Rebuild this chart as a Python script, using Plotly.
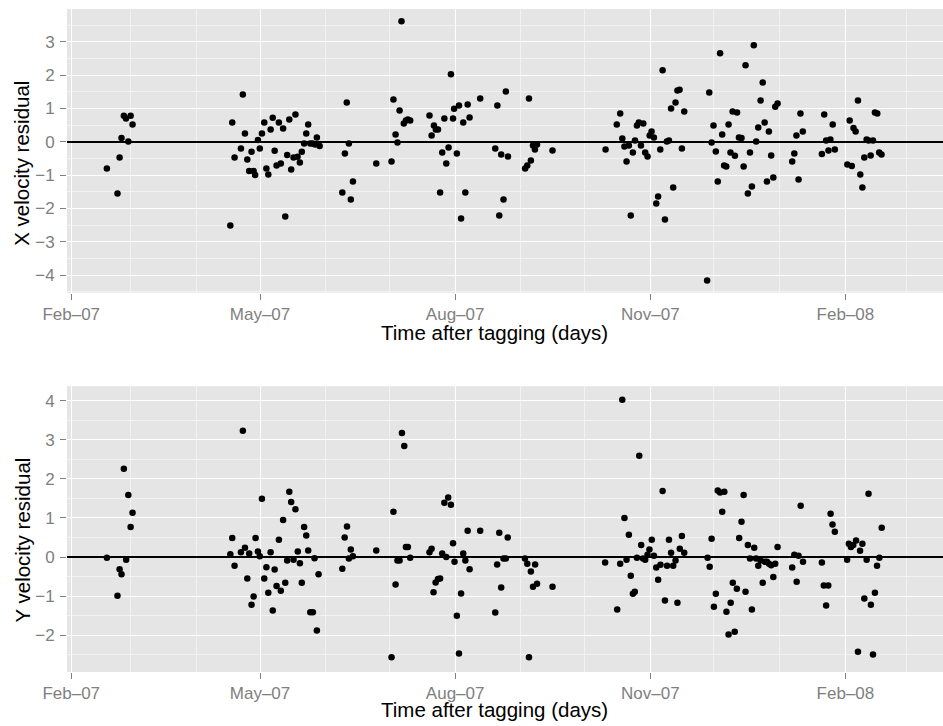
import pandas as pd
import plotly.graph_objects as go

START = "2007-02-01"

# --- Top panel: X velocity residual (days after 2007-02-01, residual) ---
days_x = [16.8, 21.8, 22.8, 23.7, 24.8, 25.8, 26.9, 28.0, 28.9,
          75.0, 75.9, 77.0, 80.0, 80.9, 81.9, 83.0, 83.9, 85.0, 86.0, 86.7, 88.0, 88.9, 89.9,
          91.0, 92.0, 92.9, 94.0, 95.0, 95.9, 96.8, 97.9, 98.8, 99.9, 100.9, 101.8, 102.8,
          103.7, 104.8, 105.7, 106.7, 107.8, 108.7, 109.8, 110.8, 111.7, 112.7, 113.8, 115.0,
          115.8, 117.1,
          127.8, 129.0, 129.9, 130.9, 131.8, 132.8, 143.8,
          151.0, 151.9, 152.9, 153.8, 154.8, 155.7, 156.8, 157.8, 158.7, 159.8,
          168.9, 169.9, 171.0, 171.9, 172.9, 173.9, 174.9, 175.9, 176.8, 177.9, 179.0, 180.0,
          180.5, 181.8, 182.8, 183.8, 184.8, 185.8, 186.9, 187.8, 192.8,
          199.9, 200.9, 201.8, 202.7, 203.8, 204.9, 205.9,
          214.0, 215.0, 215.8, 216.7, 217.7, 218.6, 219.6, 226.9,
          251.9, 257.2, 258.8, 259.8, 260.8, 261.8, 262.9, 263.8, 264.8, 265.8, 266.7, 267.6,
          268.6, 269.7, 270.6, 271.7, 272.7, 273.6, 274.7, 275.8, 276.7, 277.7, 278.8, 279.9,
          280.8, 281.8, 282.8, 283.8, 284.9, 285.8, 286.8, 287.9, 289.0,
          299.8, 300.8, 301.9, 302.8, 303.9, 304.8, 305.9, 306.9, 307.8, 308.8, 309.9, 310.8,
          311.8, 312.9, 313.9, 314.8, 316.0, 317.0, 317.9, 319.0, 320.0, 320.9, 321.8, 322.9,
          323.9, 325.0, 326.0, 326.9, 328.0, 328.9, 330.0, 331.0, 331.9, 333.0,
          339.9, 340.9, 341.9, 342.9, 343.8, 344.9,
          353.9, 355.0, 355.9, 357.0, 357.9, 359.0, 360.0,
          365.9, 367.0, 368.0, 368.8, 369.8, 370.9, 372.0, 373.0, 373.9, 375.0, 375.9, 376.9,
          378.0, 378.9, 380.0, 380.9, 382.0]
resid_x = [-0.80, -1.55, -0.47, 0.11, 0.78, 0.70, 0.01, 0.78, 0.52,
           -2.51, 0.58, -0.47, -0.20, 1.42, 0.25, -0.53, -0.88, -0.30, -0.88, -1.00, 0.05, -0.20, 0.25,
           0.58, -0.80, -0.98, 0.37, 0.72, -0.27, -0.71, 0.58, -0.65, 0.40, -2.24, -0.40, 0.67,
           -0.83, -0.47, 0.82, -0.45, -0.62, -0.30, -0.05, 0.25, 0.52, -0.05, -0.05, -0.08,
           0.13, -0.13,
           -1.52, -0.35, 1.18, -0.05, -1.73, -1.19, -0.65,
           -0.59, 1.27, 0.22, -0.02, 0.94, 3.61, 0.55, 0.64, 0.67, 0.64,
           0.79, 0.19, 0.49, 0.37, 0.37, -1.52, -0.32, 0.70, -0.65, -0.17, 2.02, 0.70,
           0.99, -0.35, 1.09, -2.30, 0.58, -1.52, 1.12, 0.73, 1.30,
           -0.20, 1.09, -2.21, -0.38, -1.73, 1.51, -0.44,
           -0.80, -0.71, 1.30, -0.56, -0.11, -0.23, -0.08, -0.26,
           -0.23, 0.52, 0.85, 0.10, -0.14, -0.59, -0.11, -2.21, -0.32, 0.04, 0.49, 0.58,
           -0.11, 0.55, -0.32, -0.44, 0.19, 0.31, 0.13, -1.85, -1.64, -0.23, 2.14, -2.33,
           0.01, 0.04, 1.00, -1.37, 1.18, 1.54, 1.56, -0.20, 0.91,
           -4.16, 1.48, -0.02, 0.49, -0.29, -1.19, 2.65, 0.22, -0.71, -0.74, 0.52, -0.32,
           0.91, -0.42, 0.88, 0.13, 0.11, -0.74, 2.29, -1.55, -0.32, -1.34, 2.89, 0.01,
           0.43, 1.24, 1.78, 0.58, -1.19, 0.31, -0.41, -1.07, 1.05, 1.15,
           -0.59, -0.35, 0.19, -1.13, 0.85, 0.31,
           -0.37, 0.82, 0.04, -0.26, 0.07, 0.52, -0.23,
           -0.68, 0.64, -0.73, 0.41, 0.31, 1.24, -0.98, -1.37, -0.47, 0.07, 0.04, -0.41,
           0.04, 0.88, 0.85, -0.32, -0.38]

# --- Bottom panel: Y velocity residual ---
days_y = [16.8, 21.8, 22.8, 23.7, 24.8, 25.9, 26.9, 28.0, 28.9,
          75.0, 75.9, 77.0, 80.0, 80.9, 81.9, 83.0, 83.9, 85.0, 86.0, 86.9, 88.0, 88.9, 89.9,
          91.0, 92.0, 92.9, 94.0, 95.0, 95.9, 96.8, 97.9, 98.8, 99.9, 100.9, 101.8, 102.8,
          103.7, 104.8, 105.7, 106.8, 107.8, 108.7, 109.8, 110.8, 111.7, 112.7, 113.9, 114.7,
          115.8, 116.6,
          127.8, 128.9, 130.0, 130.9, 131.8, 132.8, 143.8,
          151.0, 151.9, 152.9, 153.8, 154.8, 155.9, 157.0, 157.8, 158.7, 159.8,
          168.9, 169.9, 170.8, 171.8, 172.9, 173.9, 174.9, 175.9, 176.8, 177.7, 179.0, 180.0,
          180.7, 181.8, 182.8, 183.8, 184.8, 185.8, 186.9, 187.8, 192.8,
          199.9, 200.8, 201.8, 202.7, 203.8, 204.9, 205.8,
          213.9, 215.0, 215.8, 216.7, 217.7, 218.7, 219.6, 226.9,
          251.7, 257.4, 258.8, 259.8, 260.8, 261.8, 262.9, 263.8, 264.8, 265.7, 266.7, 267.8,
          268.7, 269.6, 270.6, 271.7, 272.6, 273.7, 274.7, 275.8, 276.7, 277.8, 278.8, 279.9,
          280.9, 281.8, 282.8, 283.8, 284.9, 285.8, 286.9, 287.9, 289.0,
          300.0, 301.0, 301.9, 303.0, 303.9, 304.8, 305.9, 306.9, 307.9, 308.9, 309.9, 310.9,
          311.9, 312.8, 313.8, 314.9, 316.0, 317.0, 317.9, 319.0, 320.0, 320.9, 322.0, 322.9,
          323.9, 325.0, 326.0, 327.0, 328.0, 329.0, 330.0, 331.0, 331.9, 333.0,
          339.9, 340.9, 342.0, 342.9, 343.9, 345.0,
          353.9, 354.8, 355.9, 356.9, 358.0, 358.9, 360.0,
          365.8, 366.6, 367.6, 368.7, 370.0, 370.9, 371.9, 373.0, 373.9, 375.0, 375.9, 377.0,
          378.0, 378.9, 379.9, 381.0, 382.1]
resid_y = [-0.02, -0.99, -0.31, -0.44, 2.26, -0.07, 1.59, 0.77, 1.13,
           0.07, 0.49, -0.22, 0.12, 3.23, 0.24, -0.55, 0.09, -1.22, -1.01, 0.49, 0.14, 0.02, 1.49,
           -0.55, -0.26, -0.91, 0.12, -1.37, -0.32, -0.74, 0.44, -0.86, 0.95, -0.66, -0.09, 1.67,
           1.41, -0.07, 1.22, 0.14, -0.16, -0.66, 0.77, 0.55, 0.17, -1.41, -1.41, -0.03,
           -1.88, -0.44,
           -0.30, 0.50, 0.78, -0.04, 0.19, 0.02, 0.17,
           -2.56, 1.16, -0.70, -0.09, -0.09, 3.17, 2.84, 0.26, 0.26, -0.02,
           0.12, 0.21, -0.90, -0.65, -0.56, -0.55, 0.09, 1.39, 0.00, 1.52, 1.34, 0.35,
           -0.12, -1.50, -2.47, -0.93, 0.09, -0.09, 0.67, -0.31, 0.67,
           -1.42, -0.19, 0.62, -0.78, -0.04, -0.04, 0.50,
           -0.04, -0.17, -2.56, -0.37, -0.76, -0.19, -0.68, -0.76,
           -0.14, -1.34, -0.17, 4.02, 1.00, -0.07, 0.57, -0.48, -0.94, -0.89, -0.02, 2.59,
           0.31, -0.04, -0.07, 0.06, 0.19, 0.44, 0.03, -0.27, -0.58, -0.20, 1.69, -1.11,
           -0.22, 0.44, 0.11, -0.22, -0.09, -1.17, 0.21, 0.54, 0.11,
           -0.02, -0.25, 0.47, -1.27, -0.94, 1.70, 1.65, 1.16, 1.67, -1.40, -1.98, -1.17,
           -0.66, -1.91, -0.81, 0.49, 0.90, 1.59, -0.89, 0.31, -0.04, -1.34, 0.24, -0.04,
           -0.22, -0.09, -0.66, -0.12, -0.12, -0.17, -0.21, -0.51, -0.17, 0.26,
           -0.27, 0.06, -0.63, 0.03, 1.31, -0.12,
           -0.14, -0.73, -1.24, -0.73, 1.11, 0.83, 0.65,
           -0.07, 0.34, 0.26, 0.31, 0.42, -2.42, 0.16, 0.34, -1.06, -0.07, 1.62, -1.22,
           -2.49, -0.91, -0.22, -0.02, 0.75]

# axis ticks / ranges
x_range = ["2007-01-30", "2008-03-18"]
y_range_top = [-4.53, 3.98]
y_range_bottom = [-2.94, 4.37]
x_title = "Time after tagging (days)"
y_title_top = "X velocity residual"
y_title_bottom = "Y velocity residual"

start = pd.Timestamp(START)
dates_x = start + pd.to_timedelta(days_x, unit="D")
dates_y = start + pd.to_timedelta(days_y, unit="D")

FONT = "Liberation Sans, Arial, Helvetica, sans-serif"
GREY = "#7F7F7F"

fig = go.Figure()
marker = dict(color="black", size=6.5, line=dict(width=0))
fig.add_trace(go.Scatter(x=dates_x, y=resid_x, mode="markers", marker=marker,
                         xaxis="x", yaxis="y", showlegend=False, hoverinfo="x+y"))
fig.add_trace(go.Scatter(x=dates_y, y=resid_y, mode="markers", marker=marker,
                         xaxis="x2", yaxis="y2", showlegend=False, hoverinfo="x+y"))

def xaxis(anchor):
    return dict(anchor=anchor, type="date", range=x_range, tick0="2007-02-01", dtick="M3",
                tickformat="%b\u2013%y", ticks="outside", ticklen=6, tickwidth=1.2,
                tickcolor=GREY, tickfont=dict(size=17, color=GREY, family=FONT),
                showgrid=True, gridcolor="white", gridwidth=1.4, zeroline=False,
                showline=False,
                minor=dict(dtick="M1", showgrid=True, gridcolor="#F2F2F2", gridwidth=0.7,
                           ticks=""))

def yaxis(anchor, rng, domain):
    return dict(anchor=anchor, range=rng, domain=domain, dtick=1, tick0=0,
                ticks="outside", ticklen=6, tickwidth=1.2, tickcolor=GREY,
                tickfont=dict(size=17, color=GREY, family=FONT),
                showgrid=True, gridcolor="white", gridwidth=1.4,
                zeroline=True, zerolinecolor="black", zerolinewidth=1.5,
                showline=False, ticklabelstandoff=2,
                minor=dict(dtick=0.5, showgrid=True, gridcolor="#F2F2F2", gridwidth=0.7,
                           ticks=""))

fig.update_layout(
    width=943, height=726,
    margin=dict(l=67, r=0, t=9, b=54),
    paper_bgcolor="white", plot_bgcolor="#E5E5E5",
    font=dict(family=FONT, color="black"),
    xaxis=xaxis("y"),
    yaxis=yaxis("x", y_range_top, [0.5719, 1.0]),
    xaxis2=xaxis("y2"),
    yaxis2=yaxis("x2", y_range_bottom, [0.0, 0.4311]),
)

def px_to_paper_y(py):
    return (672.0 - py) / (726 - 9 - 54)

def px_to_paper_x(px):
    return (px - 67) / (943 - 67)

anns = [
    dict(text=x_title, x=px_to_paper_x(494.7), y=px_to_paper_y(332), textangle=0),
    dict(text=x_title, x=px_to_paper_x(494.7), y=px_to_paper_y(709), textangle=0),
    dict(text=y_title_top, x=px_to_paper_x(21.5), y=px_to_paper_y(163.3), textangle=-90),
    dict(text=y_title_bottom, x=px_to_paper_x(21.5), y=px_to_paper_y(540), textangle=-90),
]
for a in anns:
    fig.add_annotation(xref="paper", yref="paper", showarrow=False,
                       xanchor="center", yanchor="middle",
                       font=dict(size=20.5, color="black", family=FONT), **a)

fig.write_html("out.html")
